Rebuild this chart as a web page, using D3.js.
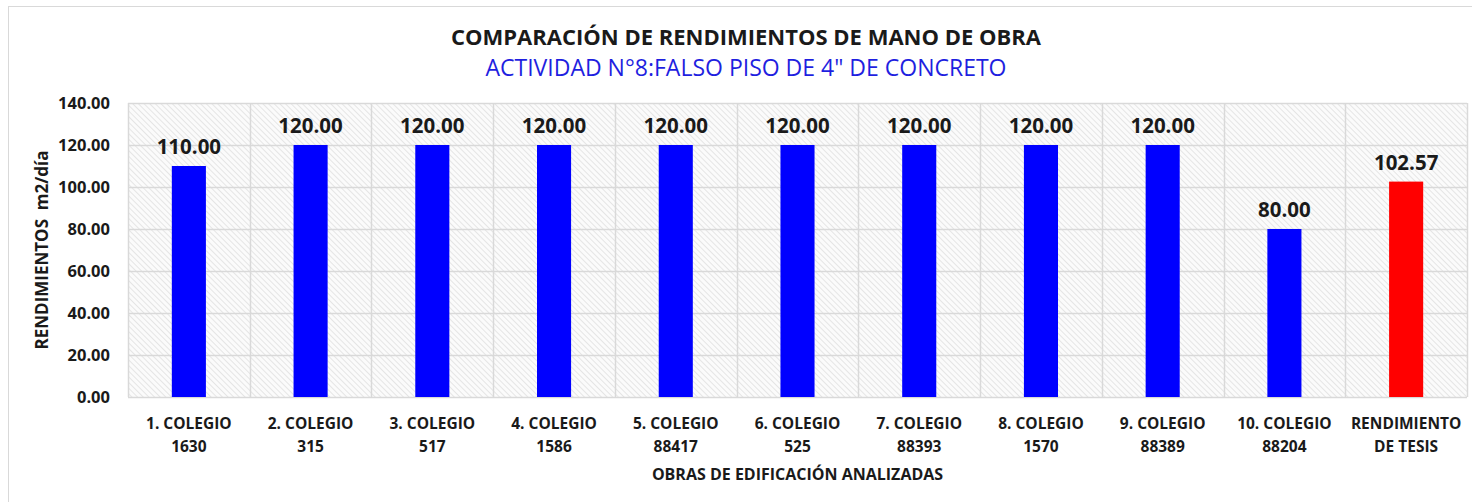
<!doctype html>
<html lang="es">
  <head>
    <meta charset="UTF-8" />
    <title>Comparación de rendimientos</title>
    <script src="https://d3js.org/d3.v7.min.js"></script>
    <style>
      html,
      body {
        margin: 0;
        padding: 0;
        background: #fff;
        overflow: hidden;
      }
      text {
        font-family: "Open Sans", "Noto Sans", sans-serif;
        fill: #1a1a1a;
      }
    </style>
  </head>
  <body>
    <svg id="chart"></svg>
    <script>
      // datos del gráfico
      const obras = [
        ["1. COLEGIO", "1630"],
        ["2. COLEGIO", "315"],
        ["3. COLEGIO", "517"],
        ["4. COLEGIO", "1586"],
        ["5. COLEGIO", "88417"],
        ["6. COLEGIO", "525"],
        ["7. COLEGIO", "88393"],
        ["8. COLEGIO", "1570"],
        ["9. COLEGIO", "88389"],
        ["10. COLEGIO", "88204"],
        ["RENDIMIENTO", "DE TESIS"]
      ];
      const rendimientos = [110, 120, 120, 120, 120, 120, 120, 120, 120, 80, 102.57];
      const yTicks = [0, 20, 40, 60, 80, 100, 120, 140];

      const width = 1472;
      const height = 502;
      const margin = { top: 103, right: 5, bottom: 105, left: 128 };

      const svg = d3.select("#chart").attr("width", width).attr("height", height);

      // patrón rayado del fondo
      const defs = svg.append("defs");
      const pat = defs
        .append("pattern")
        .attr("id", "hatch")
        .attr("patternUnits", "userSpaceOnUse")
        .attr("width", 4)
        .attr("height", 4)
        .attr("patternTransform", "rotate(-45)");
      pat.append("rect").attr("width", 4).attr("height", 4).attr("fill", "#fbfbfb");
      pat.append("line").attr("x1", 0).attr("y1", 0).attr("x2", 0).attr("y2", 4)
        .attr("stroke", "#d6d6d6").attr("stroke-width", 1.2);

      // borde del gráfico
      svg.append("rect")
        .attr("x", 8.5).attr("y", 6.5)
        .attr("width", width).attr("height", height)
        .attr("fill", "none").attr("stroke", "#d9d9d9");

      const x = d3.scaleBand()
        .domain(obras.map((d, i) => i))
        .range([margin.left, width - margin.right])
        .paddingInner(0)
        .paddingOuter(0);

      const y = d3.scaleLinear()
        .domain([0, 140])
        .range([height - margin.bottom, margin.top]);

      const plotMid = (margin.left + width - margin.right) / 2;

      // área de trazado
      svg.append("rect")
        .attr("x", margin.left).attr("y", margin.top)
        .attr("width", width - margin.right - margin.left)
        .attr("height", y(0) - margin.top)
        .attr("fill", "url(#hatch)");

      // líneas de cuadrícula horizontales
      svg.append("g")
        .selectAll("line")
        .data(yTicks)
        .join("line")
        .attr("x1", margin.left).attr("x2", width - margin.right)
        .attr("y1", (d) => Math.round(y(d)) + 0.5).attr("y2", (d) => Math.round(y(d)) + 0.5)
        .attr("stroke", "#d9d9d9").attr("stroke-width", 1.5);

      // líneas verticales entre categorías
      const bounds = obras.map((d, i) => x(i)).concat([width - margin.right]);
      svg.append("g")
        .selectAll("line")
        .data(bounds)
        .join("line")
        .attr("x1", (d) => Math.round(d) + 0.5).attr("x2", (d) => Math.round(d) + 0.5)
        .attr("y1", margin.top).attr("y2", y(0))
        .attr("stroke", "#d9d9d9").attr("stroke-width", 1.5);

      // barras
      const barW = x.bandwidth() * 0.28;
      svg.append("g")
        .selectAll("rect")
        .data(rendimientos)
        .join("rect")
        .attr("x", (d, i) => x(i) + (x.bandwidth() - barW) / 2)
        .attr("y", (d) => y(d))
        .attr("width", barW)
        .attr("height", (d) => y(0) - y(d))
        .attr("fill", (d, i) => (i === rendimientos.length - 1 ? "#ff0000" : "#0000ff"));

      // etiquetas de datos
      svg.append("g")
        .selectAll("text")
        .data(rendimientos)
        .join("text")
        .attr("x", (d, i) => x(i) + x.bandwidth() / 2)
        .attr("y", (d) => y(d) - 12)
        .attr("text-anchor", "middle")
        .style("font-size", "20.5px")
        .style("font-weight", "bold")
        .text((d) => d.toFixed(2));

      // eje y
      svg.append("g")
        .selectAll("text")
        .data(yTicks)
        .join("text")
        .attr("x", 110)
        .attr("y", (d) => y(d) + 6)
        .attr("text-anchor", "end")
        .style("font-size", "16.5px")
        .style("font-weight", "bold")
        .text((d) => d.toFixed(2));

      // eje x (dos líneas)
      const xl = svg.append("g")
        .selectAll("text")
        .data(obras)
        .join("text")
        .attr("text-anchor", "middle")
        .style("font-size", "15.5px")
        .style("font-weight", "bold");
      xl.append("tspan")
        .attr("x", (d, i) => x(i) + x.bandwidth() / 2)
        .attr("y", 429)
        .text((d) => d[0]);
      xl.append("tspan")
        .attr("x", (d, i) => x(i) + x.bandwidth() / 2)
        .attr("y", 452)
        .text((d) => d[1]);

      // títulos
      svg.append("text")
        .attr("x", 746).attr("y", 45)
        .attr("text-anchor", "middle")
        .style("font-size", "22px")
        .style("font-weight", "bold")
        .text("COMPARACIÓN DE RENDIMIENTOS DE MANO DE OBRA");

      svg.append("text")
        .attr("x", 746).attr("y", 76)
        .attr("text-anchor", "middle")
        .style("font-size", "23px")
        .style("fill", "#1f1fe0")
        .text("ACTIVIDAD N°8:FALSO PISO DE 4\" DE CONCRETO");

      svg.append("text")
        .attr("x", plotMid).attr("y", 480)
        .attr("text-anchor", "middle")
        .style("font-size", "16px")
        .style("font-weight", "bold")
        .text("OBRAS DE EDIFICACIÓN ANALIZADAS");

      svg.append("text")
        .attr("transform", `translate(48, ${(margin.top + y(0)) / 2}) rotate(-90)`)
        .attr("text-anchor", "middle")
        .style("font-size", "17px")
        .style("font-weight", "bold")
        .style("white-space", "pre")
        .text("RENDIMIENTOS  m2/día");
    </script>
  </body>
</html>
